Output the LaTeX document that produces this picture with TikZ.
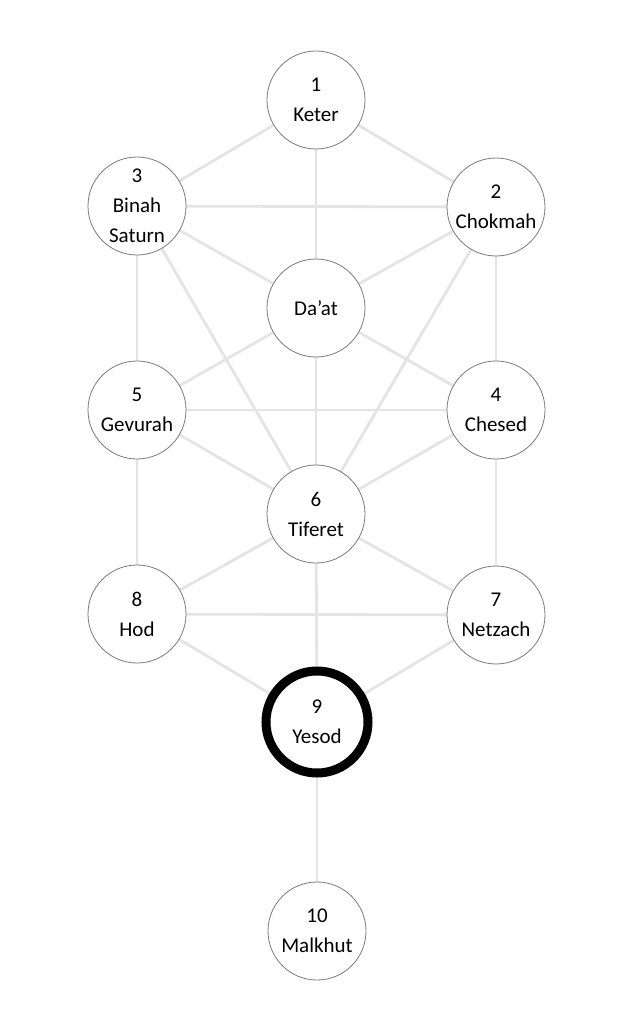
\documentclass[tikz,border=0pt]{standalone}
\usepackage{fontspec}
\setmainfont{Carlito}
\definecolor{linkgray}{HTML}{E4E4E4}
\definecolor{rimgray}{HTML}{7A7A7A}
\tikzset{
  sefira/.style={circle, draw=rimgray, line width=0.8pt, fill=white, minimum size=98pt, inner sep=0pt, align=center, font=\fontsize{21}{30}\selectfont},
  focus/.style={sefira, draw=black, line width=9pt, minimum size=102pt},
  path/.style={draw=linkgray, line width=2.8pt}
}
\begin{document}
\begin{tikzpicture}[x=1pt,y=-1pt]
\useasboundingbox (0,0) rectangle (633,1024);
\fill[white] (0,0) rectangle (633,1024);
\coordinate (pKeter) at (316,100);
\coordinate (pBinah) at (137,206);
\coordinate (pChokmah) at (496,207);
\coordinate (pDaat) at (316,308);
\coordinate (pGevurah) at (137,410);
\coordinate (pChesed) at (496,410);
\coordinate (pTiferet) at (316,514);
\coordinate (pHod) at (137,614);
\coordinate (pNetzach) at (496,615);
\coordinate (pYesod) at (317,722);
\coordinate (pMalkhut) at (317,931);
% connectors
\foreach \a/\b in {Keter/Binah, Keter/Chokmah, Keter/Daat, Binah/Chokmah, Binah/Daat, Chokmah/Daat,
  Binah/Gevurah, Chokmah/Chesed, Binah/Tiferet, Chokmah/Tiferet, Daat/Gevurah, Daat/Chesed, Daat/Tiferet,
  Gevurah/Chesed, Gevurah/Tiferet, Chesed/Tiferet, Gevurah/Hod, Chesed/Netzach, Tiferet/Hod, Tiferet/Netzach,
  Tiferet/Yesod, Hod/Netzach, Hod/Yesod, Netzach/Yesod, Yesod/Malkhut}
  \draw[path] (p\a) -- (p\b);
% nodes
\node[sefira] (keter) at (pKeter) {1\\Keter};
\node[sefira] (binah) at (pBinah) {3\\Binah\\Saturn};
\node[sefira] (chokmah) at (pChokmah) {2\\Chokmah};
\node[sefira] (daat) at (pDaat) {Da’at};
\node[sefira] (gevurah) at (pGevurah) {5\\Gevurah};
\node[sefira] (chesed) at (pChesed) {4\\Chesed};
\node[sefira] (tiferet) at (pTiferet) {6\\Tiferet};
\node[sefira] (hod) at (pHod) {8\\Hod};
\node[sefira] (netzach) at (pNetzach) {7\\Netzach};
\node[focus] (yesod) at (pYesod) {9\\Yesod};
\node[sefira] (malkhut) at (pMalkhut) {10\\Malkhut};
\end{tikzpicture}
\end{document}
